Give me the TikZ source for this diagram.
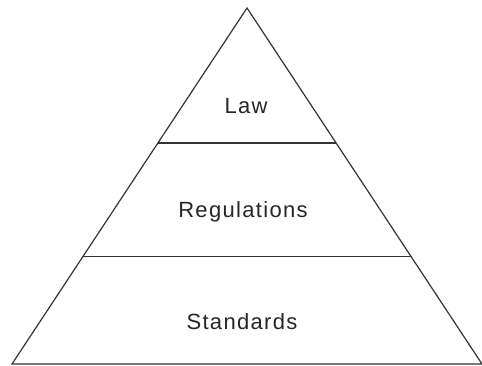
\documentclass[tikz,border=0pt]{standalone}
\usepackage{fontspec}
\setmainfont[LetterSpace=6]{Liberation Sans}
\usetikzlibrary{calc}
\tikzset{
  tier/.style={font=\fontsize{22}{26}\selectfont, text=black!85},
  edge/.style={line width=1.2pt, draw=black!80}
}
\begin{document}
\begin{tikzpicture}[x=1pt,y=-1pt]
			\useasboundingbox (0,0) rectangle (482,366);
			% outer triangle
			\coordinate (top) at (247,8);
			\coordinate (bl) at (12,364);
			\coordinate (br) at (482,364);
			\draw[edge] (bl) -- (top) -- (br) -- cycle;
			% dividing lines
			\draw[edge] ($(top)!0.379!(bl)$) -- ($(top)!0.379!(br)$);
			\draw[edge] ($(top)!0.699!(bl)$) -- ($(top)!0.699!(br)$);
			% labels
			\node[tier] (law) at (246,106) {Law};
			\node[tier] (reg) at (243,212) {Regulations};
			\node[tier] (std) at (242,322) {Standards};
		\end{tikzpicture}
\end{document}
